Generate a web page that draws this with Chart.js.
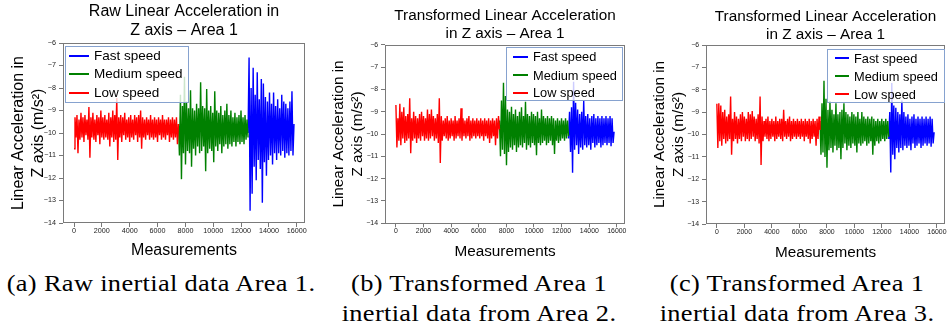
<!DOCTYPE html>
<html><head><meta charset="utf-8">
<script src="https://cdn.jsdelivr.net/npm/chart.js@4/dist/chart.umd.min.js"></script>
<style>
html,body{margin:0;padding:0;background:#fff;width:948px;height:327px;overflow:hidden;position:relative}
canvas{position:absolute;top:0}
.legend{position:absolute;border:1px solid #86a2cf;background:rgba(255,255,255,0.8);font-family:"Liberation Sans",Arial,sans-serif;color:#000;box-sizing:border-box}
.legend .row{position:absolute;left:0;white-space:nowrap}
.legend .swatch{position:absolute;height:2px}
.legend .lbl{position:absolute}
.cap{position:absolute;font-family:"Liberation Serif","Times New Roman",serif;color:#000;white-space:nowrap;font-size:24px;letter-spacing:0.3px;line-height:30px;text-align:center;width:330px;transform:scaleX(1.1);transform-origin:50% 50%}
</style></head><body>
<canvas id="c1" width="320" height="263" style="left:0px"></canvas>
<canvas id="c2" width="310" height="263" style="left:325px"></canvas>
<canvas id="c3" width="307" height="263" style="left:648px"></canvas>
<script>
// ---------- data ----------
const xTickLabels = [0, 2000, 4000, 6000, 8000, 10000, 12000, 14000, 16000];
const yTickLabels = [-14, -13, -12, -11, -10, -9, -8, -7, -6];
const segmentBounds = [0, 7500, 12500, 15800]; // measurement spans: low | medium | fast
const seriesNames = ['Fast speed', 'Medium speed', 'Low speed'];
const seriesColors = ['#0000ff', '#008000', '#ff0000'];
const titleA = ['Raw Linear Acceleration in', 'Z axis \u2013 Area 1'];
const titleB = ['Transformed Linear Acceleration', 'in Z axis \u2013 Area 1'];
const titleC = ['Transformed Linear Acceleration', 'in Z axis \u2013 Area 1'];
const yAxisTitle = ['Linear Acceleration in', 'Z axis (m/s\u00B2)'];
const xAxisTitle = 'Measurements';
const captions = [
  ['(a) Raw inertial data Area 1.'],
  ['(b) Transformed Area 1', 'inertial data from Area 2.'],
  ['(c) Transformed Area 1', 'inertial data from Area 3.']
];

// Panel (a): raw Area 1
const lowA = [-10.7,-9.3,-10.2,-9.2,-10.9,-9.4,-10.3,-9.1,-10.2,-9.3,
  -10.4,-9.2,-10.1,-9.4,-10.3,-8.85,-11.1,-9.3,-10.2,-9.1,
  -10.3,-9.4,-10.4,-9.2,-10.1,-9.3,-10.5,-9.0,-10.2,-9.3,
  -10.3,-9.2,-10.2,-9.4,-10.3,-9.1,-10.6,-9.3,-10.2,-9.0,
  -10.4,-9.2,-10.3,-8.45,-11.2,-9.3,-10.2,-9.2,-10.4,-9.3,
  -10.1,-9.1,-10.3,-9.4,-10.2,-9.3,-10.4,-9.2,-10.2,-9.4,
  -10.3,-9.2,-10.1,-9.3,-10.4,-9.2,-10.2,-9.0,-10.7,-9.3,
  -10.2,-9.4,-10.3,-9.3,-10.1,-9.4,-10.3,-9.2,-10.2,-9.4,
  -10.3,-9.3,-10.2,-9.4,-10.4,-9.3,-10.1,-9.4,-10.3,-9.2,
  -10.2,-9.4,-10.3,-9.4,-10.1,-9.3,-10.4,-9.4,-10.2,-9.3,
  -10.3,-9.4,-10.2,-9.3,-10.5,-9.6];
const medA = [-9.6,-11.0,-8.3,-12.05,-8.8,-10.9,-7.5,-11.4,-8.6,-10.8,
  -8.9,-10.9,-8.1,-11.5,-8.9,-10.7,-9.0,-11.0,-8.7,-10.6,
  -8.9,-10.9,-7.75,-10.8,-8.8,-10.6,-8.9,-11.7,-8.05,-10.9,
  -9.0,-10.7,-8.8,-10.8,-9.1,-11.3,-8.15,-10.6,-9.0,-10.8,
  -9.1,-10.5,-8.8,-10.9,-9.2,-10.6,-9.0,-10.5,-8.7,-10.7,
  -9.2,-10.5,-9.0,-10.6,-9.3,-10.4,-9.1,-10.6,-9.3,-10.4,
  -9.2,-10.5,-9.0,-10.4,-9.3,-10.5,-9.2,-10.3,-9.4,-10.2];
const fastA = [-10.0,-6.65,-13.45,-8.0,-12.7,-7.1,-11.5,-8.3,-12.1,-7.3,
  -11.2,-8.5,-11.6,-7.6,-13.1,-7.8,-11.3,-8.4,-11.9,-8.6,
  -11.2,-8.2,-11.0,-8.7,-11.4,-8.2,-10.9,-8.8,-11.2,-8.5,
  -10.9,-8.9,-11.0,-8.3,-10.8,-8.6,-11.1,-8.7,-10.9,-8.9,
  -11.0,-8.6,-10.8,-8.15,-11.0,-9.6];

// Panel (b): Area 1 transformed from Area 2
const lowB = [-8.7,-10.6,-9.3,-10.3,-8.65,-10.5,-9.0,-10.2,-8.8,-10.4,
  -9.2,-10.3,-9.1,-10.2,-8.4,-10.86,-9.3,-10.3,-9.0,-10.2,
  -9.2,-10.4,-9.3,-10.2,-9.1,-10.3,-9.0,-10.1,-9.2,-10.3,
  -9.3,-10.2,-8.9,-10.3,-9.1,-10.2,-8.9,-10.1,-9.2,-10.3,
  -9.3,-10.2,-9.1,-10.4,-8.4,-11.3,-9.2,-10.3,-9.4,-10.1,
  -9.3,-10.2,-9.2,-10.3,-9.4,-10.2,-9.3,-10.1,-9.4,-10.3,
  -9.2,-10.2,-9.4,-10.1,-9.3,-10.2,-8.85,-10.3,-9.3,-10.1,
  -9.4,-10.2,-9.3,-10.1,-9.2,-10.3,-9.4,-10.2,-9.3,-10.1,
  -9.4,-10.2,-9.3,-10.1,-9.4,-10.2,-9.3,-10.1,-9.4,-10.3,
  -9.3,-10.1,-9.4,-10.2,-9.3,-10.4,-9.4,-10.2,-9.3,-10.1,
  -9.4,-10.5,-9.3,-10.2,-9.2,-9.8];
const medB = [-9.4,-11.0,-8.5,-10.7,-7.7,-10.9,-8.3,-11.4,-8.9,-10.8,
  -9.0,-10.6,-8.78,-10.7,-9.1,-10.5,-8.9,-10.8,-9.2,-10.6,
  -9.0,-10.5,-8.8,-10.6,-9.2,-10.4,-8.56,-10.7,-9.1,-10.5,
  -9.2,-10.6,-9.0,-10.4,-9.1,-10.5,-9.2,-10.95,-9.0,-10.4,
  -9.3,-10.5,-8.9,-10.4,-9.2,-10.3,-9.3,-10.5,-9.2,-10.4,
  -9.3,-10.3,-9.2,-10.5,-9.3,-10.9,-9.4,-10.3,-9.3,-10.4,
  -9.4,-10.3,-9.3,-10.2,-9.4,-10.3,-9.3,-10.2,-9.4,-10.1];
const fastB = [-10.2,-9.0,-10.8,-8.8,-11.74,-7.66,-10.7,-8.6,-10.5,-8.9,
  -10.9,-9.1,-10.6,-9.0,-10.7,-8.5,-10.5,-9.2,-10.6,-9.1,
  -10.5,-9.3,-10.7,-9.2,-10.4,-9.1,-10.6,-9.3,-10.5,-9.2,
  -10.4,-9.3,-10.6,-9.2,-10.5,-9.3,-10.4,-9.2,-10.5,-9.3,
  -10.4,-9.2,-10.55,-9.3,-10.4,-9.9];

// Panel (c): Area 1 transformed from Area 3
const lowC = [-8.63,-10.6,-8.6,-10.3,-8.7,-10.5,-9.0,-10.2,-8.9,-10.4,
  -9.2,-10.3,-9.1,-10.2,-8.3,-10.9,-9.3,-10.3,-9.0,-10.2,
  -9.2,-10.4,-9.3,-10.2,-9.1,-10.3,-9.0,-10.1,-9.2,-10.3,
  -9.3,-10.2,-9.0,-10.3,-9.1,-10.2,-8.95,-10.1,-9.2,-10.3,
  -9.3,-10.2,-9.1,-10.4,-8.3,-11.36,-9.2,-10.3,-9.4,-10.1,
  -9.3,-10.2,-9.2,-10.3,-9.4,-10.2,-9.3,-10.1,-9.4,-10.3,
  -9.2,-10.2,-9.4,-10.1,-9.3,-10.2,-9.3,-10.3,-8.9,-10.1,
  -9.4,-10.2,-9.3,-10.1,-9.2,-10.3,-9.4,-10.2,-9.3,-10.1,
  -9.4,-10.2,-9.3,-10.1,-9.4,-10.2,-9.3,-10.1,-9.4,-10.3,
  -9.3,-10.1,-9.4,-10.2,-9.3,-10.4,-9.4,-10.2,-9.3,-10.1,
  -9.4,-10.5,-9.3,-10.2,-9.2,-9.8];
const medC = [-9.4,-10.9,-8.6,-10.8,-7.6,-11.0,-8.4,-11.48,-8.9,-10.7,
  -8.5,-10.6,-8.9,-10.8,-9.1,-10.5,-8.6,-10.7,-9.1,-10.6,
  -9.0,-11.1,-8.9,-10.6,-8.6,-10.4,-9.0,-10.7,-9.1,-10.5,
  -9.2,-10.6,-9.0,-10.4,-9.1,-10.5,-9.2,-10.8,-9.0,-10.4,
  -9.3,-10.5,-9.0,-10.4,-9.2,-10.3,-9.3,-10.5,-9.2,-10.4,
  -9.3,-10.3,-9.2,-10.9,-9.3,-10.5,-9.4,-10.3,-9.3,-10.4,
  -9.4,-10.3,-9.3,-10.2,-9.4,-10.3,-9.3,-10.2,-9.4,-10.1];
const fastC = [-10.2,-9.0,-11.7,-7.7,-10.9,-8.7,-11.1,-8.8,-10.6,-9.0,
  -10.8,-9.1,-10.6,-8.48,-10.7,-9.0,-10.5,-9.2,-10.6,-9.1,
  -10.5,-9.3,-10.7,-9.2,-10.4,-9.1,-10.6,-9.3,-10.5,-9.2,
  -10.4,-9.3,-10.6,-9.2,-10.5,-9.3,-10.4,-9.2,-10.5,-9.3,
  -10.4,-9.2,-10.55,-9.3,-10.4,-9.9];

// ---------- layout / style ----------
const FONT = '"Liberation Sans", Arial, sans-serif';
const CANVAS_H = 263;
const panels = [
  {id:'c1', canvasLeft:0, canvasWidth:320, area:{left:63, top:43, right:305, bottom:223},
   title:titleA, fast:fastA, medium:medA, low:lowA,
   fontSize:16, tickSize:7.2, legendSize:13.5, titleLH:1.15, titleTop:2.5, yTitleLH:1.25, yTitleOffset:8.3, xTitleBottom:2.4,
   legend:{left:65, top:46, width:124, height:57, rows:[55.7, 74, 93.3], lineLeft:3, lineWidth:20, textLeft:28}},
  {id:'c2', canvasLeft:325, canvasWidth:310, area:{left:385, top:44.7, right:625, bottom:223.3},
   title:titleB, fast:fastB, medium:medB, low:lowB,
   fontSize:15.3, tickSize:6.9, legendSize:12.8, titleLH:1.13, titleTop:7.35, yTitleLH:1.27, yTitleOffset:3.6, xTitleBottom:2.5,
   legend:{left:506, top:47, width:117, height:54, rows:[56.7, 75, 92.7], lineLeft:6, lineWidth:15, textLeft:26}},
  {id:'c3', canvasLeft:648, canvasWidth:307, area:{left:706, top:45, right:945, bottom:224},
   title:titleC, fast:fastC, medium:medC, low:lowC,
   fontSize:15.3, tickSize:6.9, legendSize:12.8, titleLH:1.15, titleTop:7.9, yTitleLH:1.26, yTitleOffset:2.3, xTitleBottom:1.1,
   legend:{left:827, top:49, width:118, height:54, rows:[58.3, 76, 94], lineLeft:7, lineWidth:14, textLeft:26}}
];
const captionCenters = [161, 479, 797];
const captionTop = 268;

function segment(vals, x0, x1) {
  const n = vals.length;
  return vals.map((y, i) => ({x: x0 + (x1 - x0) * i / (n - 1), y}));
}

const framePlugin = {
  id: 'frame',
  afterDraw(chart) {
    const {ctx, chartArea: a} = chart;
    ctx.save();
    ctx.strokeStyle = '#7a7a7a';
    ctx.lineWidth = 1;
    ctx.strokeRect(Math.round(a.left) + 0.5, Math.round(a.top) + 0.5, Math.round(a.right - a.left) - 1, Math.round(a.bottom - a.top) - 1);
    ctx.restore();
  }
};
// centre the title over the axes box (as matplotlib does)
const titleCenterPlugin = {
  id: 'titleCenter',
  afterLayout(chart) {
    const t = chart.titleBlock, a = chart.chartArea;
    if (!t) return;
    const c = (a.left + a.right) / 2;
    t.left = c - 160; t.right = c + 160; t.width = 320;
  }
};

const charts = panels.map(p => {
  const seriesVals = [p.fast, p.medium, p.low];
  const spans = [[segmentBounds[2], segmentBounds[3]], [segmentBounds[1], segmentBounds[2]], [segmentBounds[0], segmentBounds[1]]];
  const datasets = seriesNames.map((name, k) => ({
    label: name,
    data: segment(seriesVals[k], spans[k][0], spans[k][1]),
    borderColor: seriesColors[k],
    backgroundColor: seriesColors[k],
    borderWidth: 1.4,
    pointRadius: 0,
    tension: 0,
    fill: false,
    order: 2 - k
  }));
  const titleH = 2 * p.fontSize * p.titleLH;
  return new Chart(document.getElementById(p.id), {
    type: 'line',
    data: {datasets},
    plugins: [framePlugin, titleCenterPlugin],
    options: {
      responsive: false, animation: false, devicePixelRatio: 1,
      events: [],
      layout: {padding: {left: 0, top: 0, bottom: 0, right: p.canvasWidth - (p.area.right - p.canvasLeft)}},
      plugins: {
        legend: {display: false},
        tooltip: {enabled: false},
        title: {display: true, text: p.title, color: '#000',
          font: {family: FONT, size: p.fontSize, weight: 'normal', lineHeight: p.titleLH},
          padding: {top: p.titleTop, bottom: p.area.top - p.titleTop - titleH}}
      },
      scales: {
        x: {
          type: 'linear', min: -790, max: 16590,
          afterBuildTicks: s => { s.ticks = xTickLabels.map(v => ({value: v})); },
          afterFit: s => { s.height = CANVAS_H - p.area.bottom; },
          grid: {drawOnChartArea: false, drawTicks: true, tickLength: 4, color: '#555', lineWidth: 0.8},
          border: {display: false},
          ticks: {font: {family: FONT, size: p.tickSize}, color: '#222', padding: 0, maxRotation: 0, autoSkip: false,
            callback: v => String(v)},
          title: {display: true, text: xAxisTitle, color: '#000',
            font: {family: FONT, size: p.fontSize, weight: 'normal', lineHeight: 1.2},
            padding: {top: 0, bottom: p.xTitleBottom}}
        },
        y: {
          min: -14, max: -6,
          afterBuildTicks: s => { s.ticks = yTickLabels.map(v => ({value: v})); },
          afterFit: s => { s.width = p.area.left - p.canvasLeft; },
          grid: {drawOnChartArea: false, drawTicks: true, tickLength: 4, color: '#555', lineWidth: 0.8},
          border: {display: false},
          ticks: {font: {family: FONT, size: p.tickSize}, color: '#222', padding: 3,
            callback: v => (v < 0 ? '\u2212' : '') + Math.abs(v)},
          title: {display: true, text: yAxisTitle, color: '#000',
            font: {family: FONT, size: p.fontSize, weight: 'normal', lineHeight: p.yTitleLH},
            padding: {top: p.yTitleOffset, bottom: 0}}
        }
      }
    }
  });
});

// HTML legends (inside the axes, upper area), built from the chart datasets
charts.forEach((chart, i) => {
  const p = panels[i];
  const L = p.legend;
  const box = document.createElement('div');
  box.className = 'legend';
  Object.assign(box.style, {left: L.left + 'px', top: L.top + 'px', width: L.width + 'px', height: L.height + 'px', fontSize: p.legendSize + 'px'});
  const lh = Math.round(p.legendSize * 1.2);
  chart.data.datasets.forEach((ds, k) => {
    const row = document.createElement('div');
    row.className = 'row';
    row.style.top = (L.rows[k] - L.top - lh / 2 - 1) + 'px';
    row.style.height = lh + 'px';
    row.style.lineHeight = lh + 'px';
    const sw = document.createElement('span');
    sw.className = 'swatch';
    Object.assign(sw.style, {left: L.lineLeft + 'px', width: L.lineWidth + 'px', top: (lh / 2 - 1) + 'px', background: ds.borderColor});
    const tx = document.createElement('span');
    tx.className = 'lbl';
    tx.style.left = L.textLeft + 'px';
    tx.textContent = ds.label;
    row.appendChild(sw); row.appendChild(tx);
    box.appendChild(row);
  });
  document.body.appendChild(box);
});

// sub-figure captions
captions.forEach((lines, i) => {
  lines.forEach((t, j) => {
    const d = document.createElement('div');
    d.className = 'cap';
    d.style.left = (captionCenters[i] - 165) + 'px';
    d.style.top = (captionTop + j * 30) + 'px';
    d.textContent = t;
    document.body.appendChild(d);
  });
});
</script>
</body></html>
